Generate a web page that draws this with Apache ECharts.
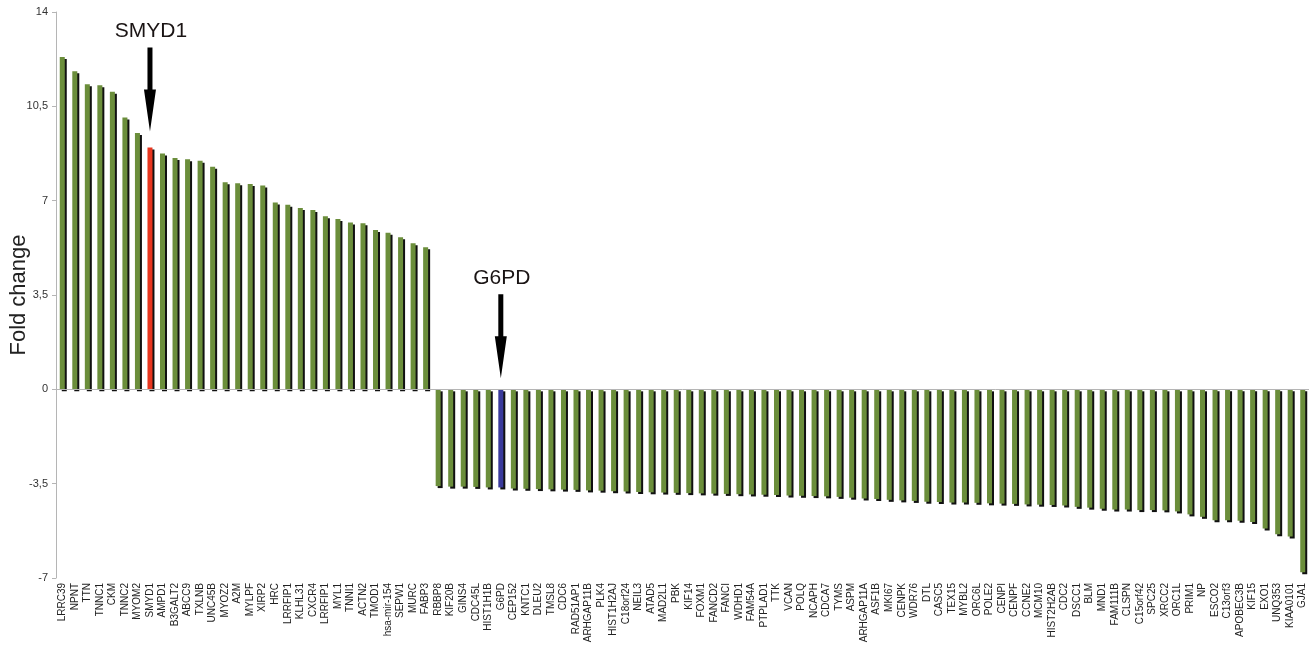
<!DOCTYPE html>
<html>
<head>
<meta charset="utf-8">
<script src="https://cdn.jsdelivr.net/npm/echarts@6/dist/echarts.min.js"></script>
<style>
  html, body { margin: 0; padding: 0; background: #ffffff; }
  #chart { width: 1313px; height: 650px; }
</style>
</head>
<body>
<div id="chart"></div>
<script>
// Gene symbols, in the order they are plotted
const genes = [
  'LRRC39', 'NPNT', 'TTN', 'TNNC1', 'CKM', 'TNNC2', 'MYOM2', 'SMYD1', 'AMPD1', 'B3GALT2',
  'ABCC9', 'TXLNB', 'UNC45B', 'MYOZ2', 'A2M', 'MYLPF', 'XIRP2', 'HRC', 'LRRFIP1', 'KLHL31',
  'CXCR4', 'LRRFIP1', 'MYL1', 'TNNI1', 'ACTN2', 'TMOD1', 'hsa-mir-154', 'SEPW1', 'MURC', 'FABP3',
  'RBBP8', 'KIF20B', 'GINS4', 'CDC45L', 'HIST1H1B', 'G6PD', 'CEP152', 'KNTC1', 'DLEU2', 'TMSL8',
  'CDC6', 'RAD51AP1', 'ARHGAP11B', 'PLK4', 'HIST1H2AJ', 'C18orf24', 'NEIL3', 'ATAD5', 'MAD2L1', 'PBK',
  'KIF14', 'FOXM1', 'FANCD2', 'FANCI', 'WDHD1', 'FAM54A', 'PTPLAD1', 'TTK', 'VCAN', 'POLQ',
  'NCAPH', 'CDCA7', 'TYMS', 'ASPM', 'ARHGAP11A', 'ASF1B', 'MKI67', 'CENPK', 'WDR76', 'DTL',
  'CASC5', 'TEX15', 'MYBL2', 'ORC6L', 'POLE2', 'CENPI', 'CENPF', 'CCNE2', 'MCM10', 'HIST2H2AB',
  'CDC2', 'DSCC1', 'BLM', 'MND1', 'FAM111B', 'CLSPN', 'C15orf42', 'SPC25', 'XRCC2', 'ORC1L',
  'PRIM1', 'NP', 'ESCO2', 'C13orf3', 'APOBEC3B', 'KIF15', 'EXO1', 'UNQ353', 'KIAA0101', 'GJA1'
];

// Up-regulated genes (fold change)
const upFold = [
  12.33, 11.80, 11.32, 11.28, 11.04, 10.09, 9.51, 8.97, 8.75, 8.58,
  8.54, 8.48, 8.26, 7.68, 7.65, 7.62, 7.56, 6.93, 6.85, 6.73,
  6.65, 6.42, 6.32, 6.19, 6.16, 5.91, 5.81, 5.64, 5.42, 5.27
];

// Down-regulated genes (fold change)
const downFold = [
  -3.59, -3.61, -3.61, -3.62, -3.64, -3.64, -3.68, -3.69, -3.70, -3.71,
  -3.72, -3.73, -3.75, -3.76, -3.78, -3.79, -3.81, -3.82, -3.83, -3.84,
  -3.85, -3.86, -3.87, -3.88, -3.89, -3.90, -3.91, -3.92, -3.94, -3.95,
  -3.96, -3.97, -3.99, -4.02, -4.05, -4.07, -4.10, -4.12, -4.14, -4.17,
  -4.18, -4.20, -4.20, -4.21, -4.23, -4.24, -4.25, -4.27, -4.28, -4.29,
  -4.31, -4.36, -4.39, -4.43, -4.46, -4.46, -4.48, -4.48, -4.49, -4.53,
  -4.64, -4.73, -4.86, -4.86, -4.88, -4.92, -5.16, -5.38, -5.46, -6.79
];

// Y axis ticks
const yMin = -7, yMax = 14, yStep = 3.5;

// Genes called out with an arrow and their own bar colour
const callouts = [
  { gene: 'SMYD1', color: '#e8361f', tipGap: 16 },
  { gene: 'G6PD',  color: '#3a3a9c', tipGap: 11 }
];

const barColor = '#6b8e3b';
const foldChange = upFold.concat(downFold);

const barData = foldChange.map((v, i) => {
  const c = callouts.find(o => o.gene === genes[i]);
  return c ? { value: v, itemStyle: { color: c.color } } : v;
});

const chart = echarts.init(document.getElementById('chart'), null, { renderer: 'canvas' });

chart.setOption({
  animation: false,
  backgroundColor: '#ffffff',
  grid: {
    left: 56, right: 4, top: 12, bottom: 72,
    containLabel: false,
    outerBoundsMode: 'none'
  },
  xAxis: {
    type: 'category',
    data: genes,
    position: 'bottom',
    axisLine: { show: false },
    axisTick: { show: false },
    axisLabel: {
      interval: 0,
      rotate: 90,
      fontSize: 10,
      margin: 5,
      color: '#222',
      fontFamily: 'Liberation Sans, Arial, sans-serif'
    },
    splitLine: { show: false }
  },
  yAxis: {
    type: 'value',
    min: yMin,
    max: yMax,
    interval: yStep,
    name: 'Fold change',
    nameLocation: 'middle',
    nameGap: 26,
    nameMoveOverlap: false,
    nameTextStyle: {
      fontSize: 22,
      color: '#222',
      fontFamily: 'Liberation Sans, Arial, sans-serif'
    },
    axisLine: { show: true, lineStyle: { color: '#b5b5b5', width: 1 } },
    axisTick: { show: true, length: 4, lineStyle: { color: '#b5b5b5' } },
    axisLabel: {
      fontSize: 11,
      color: '#333',
      margin: 8,
      fontFamily: 'Liberation Sans, Arial, sans-serif',
      formatter: v => String(v).replace('.', ',')
    },
    splitLine: { show: false }
  },
  series: [{
    type: 'bar',
    data: barData,
    barWidth: 5,
    itemStyle: {
      color: barColor,
      shadowColor: '#111111',
      shadowBlur: 0,
      shadowOffsetX: 2,
      shadowOffsetY: 2
    },
    markLine: {
      silent: true,
      symbol: ['none', 'none'],
      label: { show: false },
      lineStyle: { color: '#b5b5b5', width: 1, type: 'solid' },
      data: [{ yAxis: 0 }]
    }
  }]
});

// Arrow + label above each called-out gene, placed through the axes
function arrowGraphics() {
  const out = [];
  callouts.forEach(c => {
    const idx = genes.indexOf(c.gene);
    const v = foldChange[idx];
    const p = chart.convertToPixel({ xAxisIndex: 0, yAxisIndex: 0 }, [idx, Math.max(v, 0)]);
    const x = p[0];
    const tip = p[1] - c.tipGap;
    const len = 84, head = 42, shaftW = 5, headW = 12;
    const top = tip - len;
    out.push({
      type: 'polygon',
      shape: {
        points: [
          [x - shaftW / 2, top], [x + shaftW / 2, top],
          [x + shaftW / 2, tip - head], [x + headW / 2, tip - head],
          [x, tip],
          [x - headW / 2, tip - head], [x - shaftW / 2, tip - head]
        ]
      },
      style: { fill: '#000000' },
      silent: true
    });
    out.push({
      type: 'text',
      x: x + 1,
      y: top - 6,
      style: {
        text: c.gene,
        fill: '#1a1414',
        font: '21px "Liberation Sans", Arial, sans-serif',
        align: 'center',
        verticalAlign: 'bottom'
      },
      silent: true
    });
  });
  return out;
}

chart.setOption({ graphic: arrowGraphics() });
</script>
</body>
</html>
